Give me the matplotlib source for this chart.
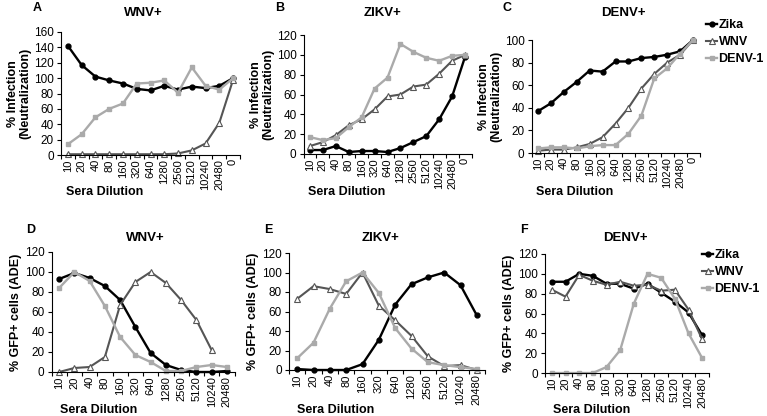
import numpy as np
import matplotlib
matplotlib.use('Agg')
import matplotlib.pyplot as plt
from matplotlib.ticker import FixedLocator

plt.rcParams['font.family'] = ['Liberation Sans', 'DejaVu Sans']
plt.rcParams['font.size'] = 8.5

W, H = 767, 416

# categories
dil_top = ['10', '20', '40', '80', '160', '320', '640', '1280', '2560',
           '5120', '10240', '20480', '0']
dil_bot = dil_top[:-1]

# Neutralization (top row)
a_zika = [142, 117, 102, 97, 93, 86, 84, 90, 85, 89, 87, 90, 100]
a_wnv = [1, 1, 1, 1, 1, 1, 1, 1, 2, 6, 15, 42, 98]
a_denv = [14, 27, 49, 60, 67, 93, 94, 97, 81, 114, 90, 85, 100]

b_zika = [4, 4, 8, 2, 3, 3, 2, 6, 12, 18, 35, 58, 98]
b_wnv = [8, 12, 19, 29, 35, 45, 58, 60, 68, 70, 81, 94, 100]
b_denv = [17, 14, 16, 27, 37, 66, 77, 111, 103, 97, 94, 99, 100]

c_zika = [37, 44, 54, 63, 73, 72, 81, 81, 84, 85, 87, 90, 100]
c_wnv = [2, 3, 3, 5, 8, 14, 26, 40, 57, 70, 80, 87, 100]
c_denv = [4, 5, 5, 4, 6, 7, 7, 17, 33, 66, 75, 88, 100]

# ADE (bottom row)
d_zika = [93, 99, 94, 86, 72, 45, 19, 7, 2, 0, 0, 1]
d_wnv = [0, 4, 5, 15, 67, 90, 100, 89, 72, 52, 22, np.nan]
d_denv = [84, 100, 91, 66, 35, 17, 10, 1, 1, 5, 7, 5]

e_zika = [1, 0, 0, 0, 6, 31, 67, 88, 95, 100, 87, 56]
e_wnv = [73, 86, 83, 78, 100, 66, 51, 35, 14, 4, 5, 0]
e_denv = [12, 28, 63, 91, 100, 79, 43, 22, 8, 5, 3, 1]

f_zika = [92, 92, 100, 98, 90, 90, 85, 90, 81, 72, 61, 38]
f_wnv = [84, 77, 99, 93, 89, 92, 88, 89, 83, 84, 64, 34]
f_denv = [0, 0, 0, 0, 6, 23, 70, 100, 96, 75, 40, 15]

panels = [
    # letter, title, cats, series, ymax, pixel box (l, r, top, bottom), title x, row
    ('A', 'WNV+', dil_top, (a_zika, a_wnv, a_denv), 160, (61, 240, 32, 155), 143, 'top'),
    ('B', 'ZIKV+', dil_top, (b_zika, b_wnv, b_denv), 120, (303.5, 471.5, 35, 154), 383, 'top'),
    ('C', 'DENV+', dil_top, (c_zika, c_wnv, c_denv), 100, (531.5, 699.5, 40, 153), 623, 'top'),
    ('D', 'WNV+', dil_bot, (d_zika, d_wnv, d_denv), 120, (51.5, 234.5, 252, 372), 145, 'bot'),
    ('E', 'ZIKV+', dil_bot, (e_zika, e_wnv, e_denv), 120, (289, 485, 253, 370), 380, 'bot'),
    ('F', 'DENV+', dil_bot, (f_zika, f_wnv, f_denv), 120, (545, 709, 254, 373), 625, 'bot'),
]

styles = [
    dict(label='Zika', color='black', marker='o', ms=3.5, mfc='black', mec='black', lw=1.7),
    dict(label='WNV', color='#555555', marker='^', ms=4.5, mfc='white', mec='#555555', mew=0.8, lw=1.5),
    dict(label='DENV-1', color='#aaaaaa', marker='s', ms=3.5, mfc='#aaaaaa', mec='#aaaaaa', lw=1.7),
]

fig = plt.figure(figsize=(W / 100, H / 100), dpi=100)

for letter, title, cats, series, ymax, box, tx, row in panels:
    l, r, t, b = box
    ax = fig.add_axes([l / W, 1 - b / H, (r - l) / W, (b - t) / H])
    x = np.arange(len(cats))
    for vals, st in zip(series, styles):
        ax.plot(x, vals, clip_on=False, **st)
    ax.set_xlim(-0.5, len(cats) - 0.5)
    ax.set_ylim(0, ymax)
    ax.set_yticks(np.arange(0, ymax + 1, 20))
    ax.set_xticks(x)
    ax.set_xticklabels(cats, rotation=90)
    ax.xaxis.set_minor_locator(FixedLocator(np.arange(-0.5, len(cats), 1.0)))
    ax.tick_params(axis='x', which='major', length=0, pad=3, labelsize=8)
    ax.tick_params(axis='x', which='minor', length=3, width=0.8, direction='out')
    ax.tick_params(axis='y', length=3, width=0.8, pad=2, labelsize=8.5)
    for s in ('top', 'right'):
        ax.spines[s].set_visible(False)
    for s in ('left', 'bottom'):
        ax.spines[s].set_linewidth(0.8)

    if row == 'top':
        fig.text(tx / W, 1 - 13 / H, title, ha='center', va='center',
                 fontsize=9.5, fontweight='bold')
        fig.text((l - 24) / W, 1 - 8 / H, letter, ha='center', va='center',
                 fontsize=9, fontweight='bold')
        ax.set_ylabel('% Infection\n(Neutralization)', fontsize=9, fontweight='bold',
                      linespacing=1.0, labelpad=2)
        fig.text((l + 5) / W, 1 - 192 / H, 'Sera Dilution', ha='left', va='center',
                 fontsize=9, fontweight='bold')
    else:
        fig.text(tx / W, 1 - 238 / H, title, ha='center', va='center',
                 fontsize=9.5, fontweight='bold')
        fig.text((l - 21) / W, 1 - 230 / H, letter, ha='center', va='center',
                 fontsize=9, fontweight='bold')
        ax.set_ylabel('% GFP+ cells (ADE)', fontsize=9, fontweight='bold', labelpad=2)
        fig.text((l + 8) / W, 1 - 410 / H, 'Sera Dilution', ha='left', va='center',
                 fontsize=9, fontweight='bold')

    if letter in ('C', 'F'):
        anchor = (706 / W, 1 - 19 / H) if letter == 'C' else (702 / W, 1 - 249 / H)
        fig.legend(handles=ax.lines, loc='upper left', bbox_to_anchor=anchor,
                   frameon=False, handlelength=0.9, handletextpad=0.1,
                   labelspacing=0.4, borderaxespad=0, borderpad=0,
                   prop={'weight': 'bold', 'size': 9})

fig.savefig('out.png', dpi=100, facecolor='white')
